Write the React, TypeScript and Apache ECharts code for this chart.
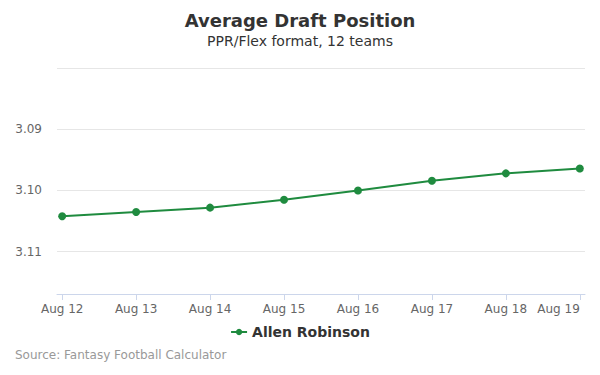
import React, { useEffect, useRef } from "react";
import * as echarts from "echarts";

const categories = ["Aug 12", "Aug 13", "Aug 14", "Aug 15", "Aug 16", "Aug 17", "Aug 18", "Aug 19"];
const adpValues = [3.1042, 3.1035, 3.1028, 3.1015, 3.1, 3.0984, 3.0972, 3.0964];
const seriesName = "Allen Robinson";

export default function App() {
  const ref = useRef<HTMLDivElement>(null);
  useEffect(() => {
    if (!ref.current) return;
    const chart = echarts.init(ref.current, null, { renderer: "svg" });
    const font = "DejaVu Sans";
    const idx = categories.map((_, i) => i);
    chart.setOption({
      animation: false,
      textStyle: { fontFamily: font },
      title: [
        {
          text: "Average Draft Position",
          left: "center",
          top: 6,
          textStyle: { fontSize: 18, fontWeight: "bold", color: "#333", fontFamily: font },
        },
        {
          text: "PPR/Flex format, 12 teams",
          left: "center",
          top: 29,
          textStyle: { fontSize: 14, fontWeight: "normal", color: "#333", fontFamily: font },
        },
        {
          text: "Source: Fantasy Football Calculator",
          left: 10,
          top: 344,
          textStyle: { fontSize: 12, fontWeight: "normal", color: "#999", fontFamily: font },
        },
      ],
      legend: {
        data: [seriesName],
        left: "center",
        top: 320,
        itemWidth: 16,
        itemHeight: 8,
        textStyle: { fontSize: 14, fontWeight: "bold", color: "#333", fontFamily: font },
      },
      grid: { left: 57, right: 15, top: 68, bottom: 81, containLabel: false },
      xAxis: {
        type: "value",
        min: -0.07,
        max: 7.07,
        axisLine: { show: true, lineStyle: { color: "#ccd6eb" } },
        axisTick: { show: true, customValues: idx, length: 6, lineStyle: { color: "#ccd6eb" } },
        axisLabel: {
          customValues: idx,
          formatter: (v: number) => categories[Math.round(v)] ?? "",
          color: "#666",
          fontSize: 12,
          margin: 9,
          fontFamily: font,
          alignMaxLabel: "right",
        },
        splitLine: { show: false },
      },
      yAxis: {
        type: "value",
        inverse: true,
        min: 3.08,
        max: 3.1169,
        interval: 0.01,
        axisLine: { show: false },
        axisTick: { show: false },
        axisLabel: {
          color: "#666",
          fontSize: 12,
          margin: 15,
          fontFamily: font,
          showMaxLabel: false,
          formatter: (v: number) =>
            Math.abs(v - 3.08) < 1e-6 || v > 3.115 ? "" : v.toFixed(2),
        },
        splitLine: { show: true, lineStyle: { color: "#e6e6e6" } },
      },
      series: [
        {
          name: seriesName,
          type: "line",
          data: adpValues.map((v, i) => [i, v]),
          symbol: "circle",
          symbolSize: 8,
          itemStyle: { color: "#1f8b3f" },
          lineStyle: { color: "#1f8b3f", width: 2 },
        },
      ],
    });
    return () => chart.dispose();
  }, []);
  return <div ref={ref} style={{ width: 600, height: 375, position: "absolute", left: 0, top: 0 }} />;
}
